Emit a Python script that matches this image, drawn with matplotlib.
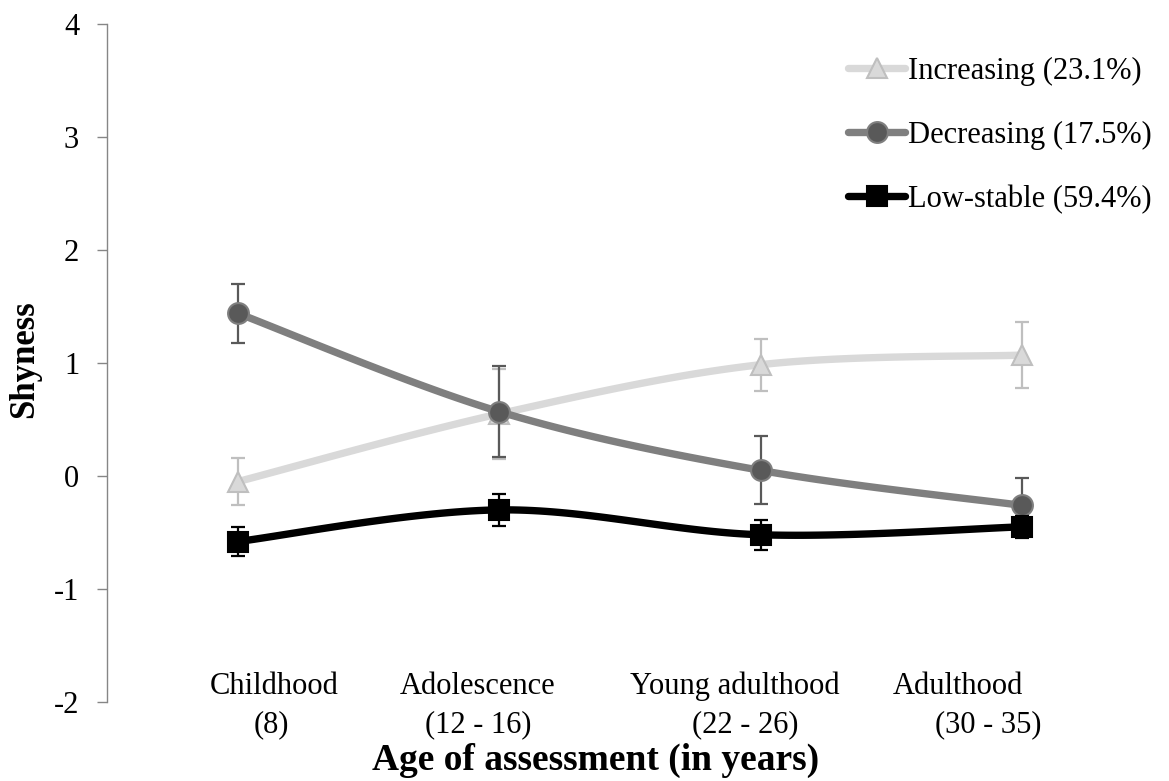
import numpy as np
import matplotlib
matplotlib.use("Agg")
import matplotlib.pyplot as plt
from matplotlib.lines import Line2D

plt.rcParams['font.family'] = ['Liberation Serif', 'DejaVu Serif']

stages = ["Childhood", "Adolescence", "Young adulthood", "Adulthood"]
ages = ["(8)", "(12 - 16)", "(22 - 26)", "(30 - 35)"]

increasing = [-0.05, 0.55, 0.985, 1.07]
increasing_err = [0.21, 0.40, 0.23, 0.29]
decreasing = [1.44, 0.57, 0.05, -0.26]
decreasing_err = [0.26, 0.40, 0.30, 0.24]
lowstable = [-0.58, -0.30, -0.52, -0.45]
lowstable_err = [0.125, 0.14, 0.135, 0.10]

labels = ["Increasing (23.1%)", "Decreasing (17.5%)", "Low-stable (59.4%)"]


def smooth(xs, ys, n=40):
    xs = np.asarray(xs, float); ys = np.asarray(ys, float)
    P = np.column_stack([xs, ys])
    out = []
    for i in range(len(P) - 1):
        p0 = P[i - 1] if i > 0 else P[i]
        p1 = P[i]; p2 = P[i + 1]
        p3 = P[i + 2] if i + 2 < len(P) else P[i + 1]
        c1 = p1 + (p2 - p0) / 6.0
        c2 = p2 - (p3 - p1) / 6.0
        t = np.linspace(0, 1, n)[:, None]
        seg = ((1 - t) ** 3) * p1 + 3 * ((1 - t) ** 2) * t * c1 + 3 * (1 - t) * t ** 2 * c2 + t ** 3 * p2
        out.append(seg if i == 0 else seg[1:])
    s = np.vstack(out)
    return s[:, 0], s[:, 1]


W, H = 1169, 781
fig = plt.figure(figsize=(W / 100, H / 100), dpi=100)
ax = fig.add_axes([107 / W, 1 - 702 / H, (1152.6 - 107) / W, (702 - 24) / H])
x = np.arange(len(stages))

series = [
    (increasing, increasing_err, '#d9d9d9', '^', '#d9d9d9', '#bfbfbf', '#bfbfbf', 2, 15),
    (decreasing, decreasing_err, '#7f7f7f', 'o', '#595959', '#7f7f7f', '#595959', 3, 15),
    (lowstable, lowstable_err, '#000000', 's', '#000000', '#000000', '#000000', 4, 15),
]
handles = []
for (vals, errs, lc, mk, mfc, mec, ec, z, ms), lab in zip(series, labels):
    sx, sy = smooth(x, vals)
    ax.plot(sx, sy, color=lc, lw=5.3, zorder=z, solid_capstyle='round')
    ax.errorbar(x, vals, yerr=errs, fmt='none', ecolor=ec, elinewidth=1.6,
                capsize=5, capthick=1.6, zorder=z)
    ax.plot(x, vals, ls='none', marker=mk, ms=ms,
            mfc=mfc, mec=mec, mew=1.5, zorder=z + 0.5)
    handles.append(Line2D([0], [0], color=lc, lw=5.3, marker=mk, ms=ms,
                          mfc=mfc, mec=mec, mew=1.5, solid_capstyle='round'))

ax.set_xlim(-0.5, 3.5)
ax.set_ylim(-2, 4)
ax.set_yticks(range(-2, 5))
ax.set_yticklabels([str(v) for v in range(-2, 5)])
ax.tick_params(axis='y', direction='out', length=7, width=1, color='#868686',
               labelsize=22, pad=13)
ax.set_xticks([])
for s in ['top', 'right', 'bottom']:
    ax.spines[s].set_visible(False)
ax.spines['left'].set_color('#868686')
ax.spines['left'].set_linewidth(1)

# category labels (as placed in the original)
off1 = [36, -22, -26, -64]
off2 = [34, -21, -15, -34]
for i in range(len(stages)):
    ax.annotate(stages[i], xy=(x[i], -2), xycoords='data',
                xytext=(off1[i] * 0.72, 11), textcoords='offset points',
                ha='center', va='center', fontsize=22)
    ax.annotate(ages[i], xy=(x[i], -2), xycoords='data',
                xytext=(off2[i] * 0.72, -16.5), textcoords='offset points',
                ha='center', va='center', fontsize=22)

fig.text(596 / W, 1 - 760 / H, "Age of assessment (in years)", ha='center', va='center',
         fontsize=27, fontweight='bold')
fig.text(25 / W, 1 - 359 / H, "Shyness", ha='center', va='center', rotation=90,
         fontsize=25, fontweight='bold')

leg = ax.legend(handles, labels, loc='upper left', bbox_to_anchor=(848 / W, 0.9277),
                bbox_transform=fig.transFigure, frameon=False, fontsize=22,
                handlelength=1.87, handletextpad=0.1, labelspacing=1.15,
                borderpad=0, borderaxespad=0)

fig.savefig("out.png", dpi=100)
